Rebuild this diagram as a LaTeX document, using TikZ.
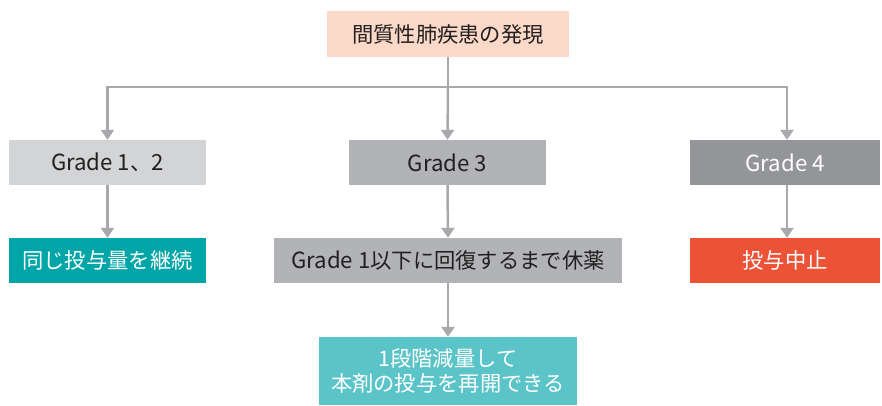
\documentclass[tikz,border=0pt]{standalone}
\usepackage{fontspec}
\setmainfont{Noto Sans CJK JP}
\usetikzlibrary{arrows.meta}
\definecolor{peach}{HTML}{FAD9C8}
\definecolor{gA}{HTML}{D3D4D6}
\definecolor{gB}{HTML}{B1B3B6}
\definecolor{gC}{HTML}{939598}
\definecolor{tealA}{HTML}{00A5A8}
\definecolor{tealB}{HTML}{5BC4C8}
\definecolor{redA}{HTML}{EB5236}
\definecolor{lineC}{HTML}{A7A9AC}
\definecolor{txt}{HTML}{231F20}
\newcommand\latn[1]{{\fontsize{22.2}{25}\selectfont #1}}
\begin{document}
\begin{tikzpicture}[x=1pt,y=-1pt,
  box/.style={inner sep=0pt, minimum height=45pt, font=\fontsize{21.3}{25}\selectfont, align=center},
  conn/.style={draw=lineC, line width=2.5pt, -{Triangle[width=13pt,length=10pt]}},
  plain/.style={draw=lineC, line width=2.5pt}]
\useasboundingbox (0,0) rectangle (882,405);
\node[box, fill=peach, text=txt, minimum width=242pt, minimum height=46pt] (top) at (448,34) {間質性肺疾患の発現};
\node[box, fill=gA, text=txt, minimum width=197pt] (g12) at (107.5,162.5) {\latn{Grade 1}、\latn{2}};
\node[box, fill=gB, text=txt, minimum width=197pt] (g3) at (447.5,162.5) {\latn{Grade 3}};
\node[box, fill=gC, text=white, minimum width=190pt] (g4) at (785,162.5) {\latn{Grade 4}};
\node[box, fill=tealA, text=white, minimum width=197pt] (cont) at (107.5,260.5) {同じ投与量を継続};
\node[box, fill=gB, text=txt, minimum width=348pt] (rest) at (448,260.5) {\latn{Grade 1}以下に回復するまで休薬};
\node[box, fill=redA, text=white, minimum width=190pt] (stop) at (785,260.5) {投与中止};
\node[box, fill=tealB, text=white, minimum width=258pt, minimum height=68pt] (resume) at (448,371) {1段階減量して\\本剤の投与を再開できる};
\coordinate (jn) at (448,87);
\draw[plain] (top.south) -- (jn);
\draw[conn] (jn) -- (g3.north);
\draw[conn] (jn) -| (g12.north);
\draw[conn] (jn) -| ([xshift=2pt]g4.north);
\draw[conn] (g12.south) -- (cont.north);
\draw[conn] (g3.south) -- (rest.north);
\draw[conn] ([xshift=2pt]g4.south) -- ([xshift=2pt]stop.north);
\draw[conn] (rest.south) -- (resume.north);
\end{tikzpicture}
\end{document}
